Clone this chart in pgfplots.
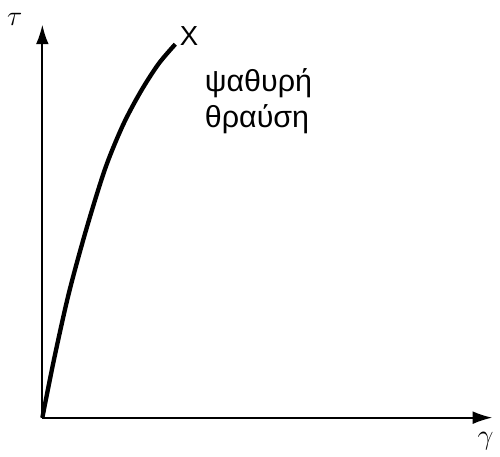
\documentclass[border=0pt]{standalone}
\usepackage{fontspec}
\setmainfont{Liberation Sans}
\usepackage{pgfplots}
\pgfplotsset{compat=1.18}
\usetikzlibrary{arrows.meta}
\begin{document}
\begin{tikzpicture}
\begin{axis}[
  scale only axis,
  width=228.5pt, height=200pt,
  xmin=0, xmax=457, ymin=0, ymax=400,
  axis lines=left,
  axis line style={line width=1pt, -{Latex[length=10pt,width=6.5pt]}},
  xtick=\empty, ytick=\empty,
  clip=false,
]
% brittle curve (pixel offsets from origin)
\addplot[line width=2.2pt, smooth] coordinates {
(0,0) (12,60) (27,127) (45,193) (64,254) (82,298) (100,332) (118,360) (135,380)
};
\addplot[only marks, mark=text, text mark={\fontsize{14}{14}\selectfont X}]
  coordinates {(149,388)};
\node[anchor=west, align=left, font=\fontsize{15.5}{18}\selectfont] at (axis cs:158,322) {ψαθυρή\\θραύση};
\node at (axis cs:-28,405) {\Large$\tau$};
\node at (axis cs:450,-24) {\Large$\gamma$};
\path (axis cs:-43,-37) rectangle (axis cs:457,425);
\end{axis}
\end{tikzpicture}
\end{document}
